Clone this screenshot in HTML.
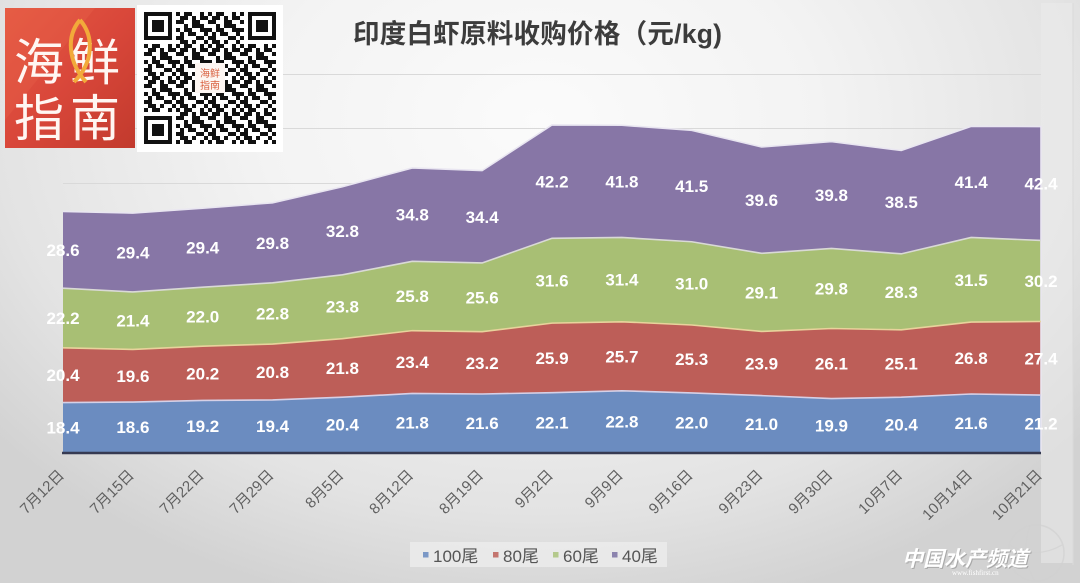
<!DOCTYPE html>
<html><head><meta charset="utf-8">
<style>
html,body{margin:0;padding:0;width:1080px;height:583px;overflow:hidden;background:#e6e6e6;}
svg{display:block;}
.dl{font-family:"Liberation Sans",sans-serif;font-weight:bold;font-size:17px;fill:#ffffff;text-anchor:middle;}
.ax{font-family:"Liberation Sans","Noto Sans CJK SC",sans-serif;font-size:15px;fill:#606060;text-anchor:end;}
.lg{font-family:"Liberation Sans","Noto Sans CJK SC",sans-serif;font-size:17px;fill:#555555;}
</style></head>
<body>
<svg width="1080" height="583" viewBox="0 0 1080 583" xmlns="http://www.w3.org/2000/svg">
<defs>
<radialGradient id="bg" cx="540" cy="120" r="700" gradientUnits="userSpaceOnUse" gradientTransform="translate(540 120) scale(1 0.72) translate(-540 -120)">
<stop offset="0" stop-color="#fbfbfb"/>
<stop offset="0.4" stop-color="#f3f3f3"/>
<stop offset="0.78" stop-color="#e3e3e3"/>
<stop offset="1" stop-color="#d2d2d2"/>
</radialGradient>
<linearGradient id="red" x1="0" y1="0" x2="1" y2="1">
<stop offset="0" stop-color="#e55a42"/>
<stop offset="0.5" stop-color="#d9473a"/>
<stop offset="1" stop-color="#c23a2d"/>
</linearGradient>
<pattern id="qr" patternUnits="userSpaceOnUse" x="144" y="12" width="32" height="32">
<rect x="0" y="0" width="32" height="32" fill="#fff"/>
<g fill="#111">
<rect x="0" y="0" width="4" height="4"/><rect x="8" y="0" width="8" height="4"/><rect x="24" y="0" width="4" height="4"/>
<rect x="4" y="4" width="8" height="4"/><rect x="16" y="4" width="4" height="4"/><rect x="24" y="4" width="8" height="4"/>
<rect x="0" y="8" width="8" height="4"/><rect x="16" y="8" width="8" height="4"/>
<rect x="8" y="12" width="4" height="4"/><rect x="16" y="12" width="12" height="4"/>
<rect x="0" y="16" width="4" height="4"/><rect x="8" y="16" width="8" height="4"/><rect x="24" y="16" width="8" height="4"/>
<rect x="4" y="20" width="4" height="4"/><rect x="12" y="20" width="8" height="4"/><rect x="28" y="20" width="4" height="4"/>
<rect x="0" y="24" width="8" height="4"/><rect x="20" y="24" width="8" height="4"/>
<rect x="4" y="28" width="8" height="4"/><rect x="16" y="28" width="4" height="4"/><rect x="28" y="28" width="4" height="4"/>
</g>
</pattern>
</defs>

<rect x="0" y="0" width="1080" height="583" fill="url(#bg)"/>
<rect x="1041" y="3" width="32" height="560" fill="#ececec" opacity="0.5"/>
<line x1="1073" y1="3" x2="1073" y2="565" stroke="#dadada" stroke-width="1"/>

<!-- gridlines -->
<g stroke="#d9d9d9" stroke-width="1">
<line x1="63" y1="74.5" x2="1041" y2="74.5"/>
<line x1="63" y1="128.5" x2="1041" y2="128.5"/>
<line x1="63" y1="183.5" x2="1041" y2="183.5"/>
</g>

<!-- title -->
<text x="353" y="43" font-family="'Liberation Sans','Noto Sans CJK SC',sans-serif" font-size="26.5" font-weight="bold" fill="#3c3c3c" textLength="369" lengthAdjust="spacing">印度白虾原料收购价格（元/kg)</text>

<!-- areas -->
<polygon fill="#8776a6" points="63,211.42 132.86,213.03 202.71,208.2 272.57,202.83 342.43,186.72 412.29,167.93 482.14,170.61 552,124.97 621.86,125.24 691.71,130.34 761.57,146.98 831.43,141.61 901.29,150.47 971.14,126.31 1041,126.58 1041,452 63,452"/>
<polygon fill="#a8bf74" points="63,288.21 132.86,291.97 202.71,287.14 272.57,282.84 342.43,274.79 412.29,261.36 482.14,262.98 552,238.27 621.86,237.47 691.71,241.76 761.57,253.31 831.43,248.48 901.29,253.85 971.14,237.47 1041,240.42 1041,452 63,452"/>
<polygon fill="#bd5e58" points="63,347.82 132.86,349.43 202.71,346.21 272.57,344.06 342.43,338.69 412.29,330.64 482.14,331.71 552,323.12 621.86,321.78 691.71,325 761.57,331.44 831.43,328.49 901.29,329.83 971.14,322.05 1041,321.51 1041,452 63,452"/>
<polygon fill="#6b8cc0" points="63,402.6 132.86,402.06 202.71,400.45 272.57,399.91 342.43,397.23 412.29,393.47 482.14,394 552,392.66 621.86,390.78 691.71,392.93 761.57,395.61 831.43,398.57 901.29,397.23 971.14,394 1041,395.08 1041,452 63,452"/>

<!-- boundary strokes -->
<g fill="none" stroke-width="1.6">
<polyline stroke="#e9e6f1" points="63,211.42 132.86,213.03 202.71,208.2 272.57,202.83 342.43,186.72 412.29,167.93 482.14,170.61 552,124.97 621.86,125.24 691.71,130.34 761.57,146.98 831.43,141.61 901.29,150.47 971.14,126.31 1041,126.58 1041,452"/>
<polyline stroke="#d9d9d6" points="63,288.21 132.86,291.97 202.71,287.14 272.57,282.84 342.43,274.79 412.29,261.36 482.14,262.98 552,238.27 621.86,237.47 691.71,241.76 761.57,253.31 831.43,248.48 901.29,253.85 971.14,237.47 1041,240.42"/>
<polyline stroke="#e8d39c" points="63,347.82 132.86,349.43 202.71,346.21 272.57,344.06 342.43,338.69 412.29,330.64 482.14,331.71 552,323.12 621.86,321.78 691.71,325 761.57,331.44 831.43,328.49 901.29,329.83 971.14,322.05 1041,321.51"/>
<polyline stroke="#d6d0e6" points="63,402.6 132.86,402.06 202.71,400.45 272.57,399.91 342.43,397.23 412.29,393.47 482.14,394 552,392.66 621.86,390.78 691.71,392.93 761.57,395.61 831.43,398.57 901.29,397.23 971.14,394 1041,395.08"/>
</g>

<!-- axis line -->
<line x1="62" y1="453" x2="1041" y2="453" stroke="#363a52" stroke-width="2.6"/>

<!-- data labels -->
<g class="dl">
<text x="63" y="255.8">28.6</text><text x="132.86" y="258.5">29.4</text><text x="202.71" y="253.7">29.4</text><text x="272.57" y="248.8">29.8</text><text x="342.43" y="236.8">32.8</text><text x="412.29" y="220.7">34.8</text><text x="482.14" y="222.8">34.4</text><text x="552" y="187.6">42.2</text><text x="621.86" y="187.4">41.8</text><text x="691.71" y="192.1">41.5</text><text x="761.57" y="206.2">39.6</text><text x="831.43" y="201.1">39.8</text><text x="901.29" y="208.2">38.5</text><text x="971.14" y="187.9">41.4</text><text x="1041" y="189.5">42.4</text>
<text x="63" y="324">22.2</text><text x="132.86" y="326.7">21.4</text><text x="202.71" y="322.7">22.0</text><text x="272.57" y="319.5">22.8</text><text x="342.43" y="312.7">23.8</text><text x="412.29" y="302">25.8</text><text x="482.14" y="303.4">25.6</text><text x="552" y="286.7">31.6</text><text x="621.86" y="285.6">31.4</text><text x="691.71" y="289.4">31.0</text><text x="761.57" y="298.4">29.1</text><text x="831.43" y="294.5">29.8</text><text x="901.29" y="297.8">28.3</text><text x="971.14" y="285.8">31.5</text><text x="1041" y="287">30.2</text>
<text x="63" y="381.2">20.4</text><text x="132.86" y="381.8">19.6</text><text x="202.71" y="379.3">20.2</text><text x="272.57" y="378">20.8</text><text x="342.43" y="374">21.8</text><text x="412.29" y="368.1">23.4</text><text x="482.14" y="368.9">23.2</text><text x="552" y="363.9">25.9</text><text x="621.86" y="362.3">25.7</text><text x="691.71" y="365">25.3</text><text x="761.57" y="369.5">23.9</text><text x="831.43" y="369.5">26.1</text><text x="901.29" y="369.5">25.1</text><text x="971.14" y="364">26.8</text><text x="1041" y="364.3">27.4</text>
<text x="63" y="433.3">18.4</text><text x="132.86" y="433">18.6</text><text x="202.71" y="432.2">19.2</text><text x="272.57" y="432">19.4</text><text x="342.43" y="430.6">20.4</text><text x="412.29" y="428.7">21.8</text><text x="482.14" y="429">21.6</text><text x="552" y="428.3">22.1</text><text x="621.86" y="427.4">22.8</text><text x="691.71" y="428.5">22.0</text><text x="761.57" y="429.8">21.0</text><text x="831.43" y="431.3">19.9</text><text x="901.29" y="430.6">20.4</text><text x="971.14" y="429">21.6</text><text x="1041" y="429.5">21.2</text>
</g>

<!-- x axis labels -->
<g class="ax">
<text transform="translate(65,476) rotate(-45)">7月12日</text>
<text transform="translate(134.86,476) rotate(-45)">7月15日</text>
<text transform="translate(204.71,476) rotate(-45)">7月22日</text>
<text transform="translate(274.57,476) rotate(-45)">7月29日</text>
<text transform="translate(344.43,476) rotate(-45)">8月5日</text>
<text transform="translate(414.29,476) rotate(-45)">8月12日</text>
<text transform="translate(484.14,476) rotate(-45)">8月19日</text>
<text transform="translate(554,476) rotate(-45)">9月2日</text>
<text transform="translate(623.86,476) rotate(-45)">9月9日</text>
<text transform="translate(693.71,476) rotate(-45)">9月16日</text>
<text transform="translate(763.57,476) rotate(-45)">9月23日</text>
<text transform="translate(833.43,476) rotate(-45)">9月30日</text>
<text transform="translate(903.29,476) rotate(-45)">10月7日</text>
<text transform="translate(973.14,476) rotate(-45)">10月14日</text>
<text transform="translate(1043,476) rotate(-45)">10月21日</text>
</g>

<!-- legend -->
<rect x="410" y="542" width="257" height="25" fill="#ececec" opacity="0.8"/>
<rect x="423" y="552" width="5.5" height="5.5" fill="#7b98c6"/>
<text class="lg" x="433" y="562">100尾</text>
<rect x="493" y="552" width="5.5" height="5.5" fill="#c4756f"/>
<text class="lg" x="503" y="562">80尾</text>
<rect x="553" y="552" width="5.5" height="5.5" fill="#b4c98c"/>
<text class="lg" x="563" y="562">60尾</text>
<rect x="612" y="552" width="5.5" height="5.5" fill="#8c84ae"/>
<text class="lg" x="622" y="562">40尾</text>

<!-- logo red -->
<rect x="5" y="8" width="130" height="140" fill="url(#red)"/>
<path d="M5,8 L95,8 L5,120 Z" fill="#e8604a" opacity="0.35"/>
<g font-family="'Noto Sans CJK SC',sans-serif" font-size="50" fill="#fff6f2">
<text x="14" y="80">海</text>
<text x="70" y="80">鲜</text>
<text x="14" y="136">指</text>
<text x="70" y="136">南</text>
</g>
<path d="M80,20 C66,36 68,62 86,82 M80,20 C94,36 94,62 74,82" fill="none" stroke="#f2aa3a" stroke-width="4"/>

<!-- QR card -->
<rect x="137" y="5" width="146" height="147" fill="#ffffff"/>
<rect x="144" y="12" width="132" height="132" fill="url(#qr)"/>
<g>
<rect x="144" y="12" width="32" height="32" fill="#fff"/>
<rect x="144" y="12" width="28" height="28" fill="#111"/><rect x="148" y="16" width="20" height="20" fill="#fff"/><rect x="152" y="20" width="12" height="12" fill="#111"/>
<rect x="244" y="12" width="32" height="32" fill="#fff"/>
<rect x="248" y="12" width="28" height="28" fill="#111"/><rect x="252" y="16" width="20" height="20" fill="#fff"/><rect x="256" y="20" width="12" height="12" fill="#111"/>
<rect x="144" y="112" width="32" height="32" fill="#fff"/>
<rect x="144" y="116" width="28" height="28" fill="#111"/><rect x="148" y="120" width="20" height="20" fill="#fff"/><rect x="152" y="124" width="12" height="12" fill="#111"/>
<rect x="195" y="63" width="30" height="30" fill="#fdf6f2"/>
<text x="210" y="77" font-family="'Noto Sans CJK SC',sans-serif" font-size="10" fill="#d9603f" text-anchor="middle">海鲜</text>
<text x="210" y="89" font-family="'Noto Sans CJK SC',sans-serif" font-size="10" fill="#d9603f" text-anchor="middle">指南</text>
</g>

<!-- watermark -->
<circle cx="1036" cy="553" r="28" fill="none" stroke="#d0d0d0" stroke-width="1.5" opacity="0.7"/>
<path d="M1010,545 Q1036,560 1062,545 M1030,526 Q1020,553 1034,580" fill="none" stroke="#d0d0d0" stroke-width="1.2" opacity="0.7"/>
<g font-family="'Noto Sans CJK SC',sans-serif" font-size="21" font-weight="bold" text-anchor="end">
<text transform="translate(1029,567) skewX(-14)" fill="#a8a8a8">中国水产频道</text>
<text transform="translate(1028,566) skewX(-14)" fill="#ffffff">中国水产频道</text>
</g>
<text x="952" y="575" font-family="'Liberation Serif',serif" font-size="7" fill="#ffffff">www.fishfirst.cn</text>
</svg>
</body></html>
